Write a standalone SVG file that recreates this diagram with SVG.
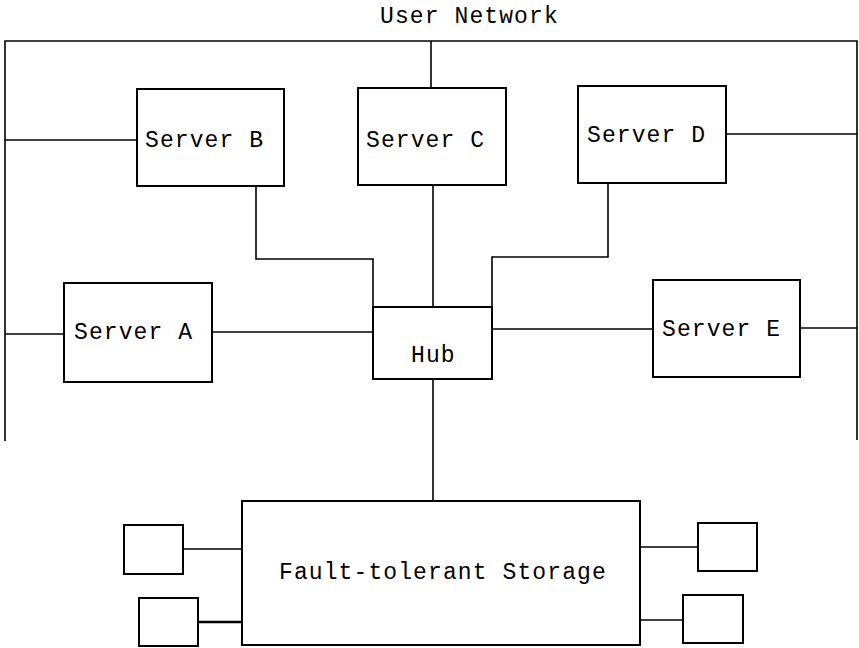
<svg xmlns="http://www.w3.org/2000/svg" width="859" height="648" viewBox="0 0 859 648">
<style>
.box{fill:#fff;stroke:#000;stroke-width:2}
.ln{fill:none;stroke:#000;stroke-width:1.6}
.t{font-family:"Liberation Mono","Courier New",monospace;font-size:23px;letter-spacing:1.1px;fill:#000}
</style>
<rect width="859" height="648" fill="#fff"/>
<text class="t" x="380" y="23">User Network</text>
<g id="connectors">
<polyline class="ln" points="5,441 5,41 857,41 857,440"/>
<line class="ln" x1="431" y1="41" x2="431" y2="88"/>
<line class="ln" x1="5" y1="140" x2="137" y2="140"/>
<line class="ln" x1="726" y1="134" x2="857" y2="134"/>
<polyline class="ln" points="256,186 256,259 373,259 373,307"/>
<line class="ln" x1="433" y1="185" x2="433" y2="307"/>
<polyline class="ln" points="608,183 608,257 492,257 492,307"/>
<line class="ln" x1="5" y1="334" x2="64" y2="334"/>
<line class="ln" x1="212" y1="332" x2="373" y2="332"/>
<line class="ln" x1="492" y1="329" x2="653" y2="329"/>
<line class="ln" x1="800" y1="328" x2="857" y2="328"/>
<line class="ln" x1="433" y1="379" x2="433" y2="501"/>
<line class="ln" x1="183" y1="549" x2="242" y2="549"/>
<line class="ln" x1="198" y1="622" x2="242" y2="622" style="stroke-width:2.5"/>
<line class="ln" x1="640" y1="547" x2="698" y2="547"/>
<line class="ln" x1="640" y1="620" x2="683" y2="620"/>
</g>
<g id="serverB"><rect class="box" x="137" y="89" width="147" height="97"/><text class="t" x="145" y="147">Server B</text></g>
<g id="serverC"><rect class="box" x="358" y="88" width="148" height="97"/><text class="t" x="366" y="147">Server C</text></g>
<g id="serverD"><rect class="box" x="578" y="86" width="148" height="97"/><text class="t" x="587" y="142">Server D</text></g>
<g id="serverA"><rect class="box" x="64" y="283" width="148" height="99"/><text class="t" x="74" y="339">Server A</text></g>
<g id="hub"><rect class="box" x="373" y="307" width="119" height="72"/><text class="t" x="411" y="362">Hub</text></g>
<g id="serverE"><rect class="box" x="653" y="280" width="147" height="97"/><text class="t" x="662" y="336">Server E</text></g>
<g id="storage"><rect class="box" x="242" y="501" width="398" height="144"/><text class="t" x="279" y="579">Fault-tolerant Storage</text></g>
<g id="disk1"><rect class="box" x="124" y="525" width="59" height="49"/></g>
<g id="disk2"><rect class="box" x="139" y="598" width="59" height="48"/></g>
<g id="disk3"><rect class="box" x="698" y="523" width="59" height="48"/></g>
<g id="disk4"><rect class="box" x="683" y="595" width="60" height="48"/></g>
</svg>
